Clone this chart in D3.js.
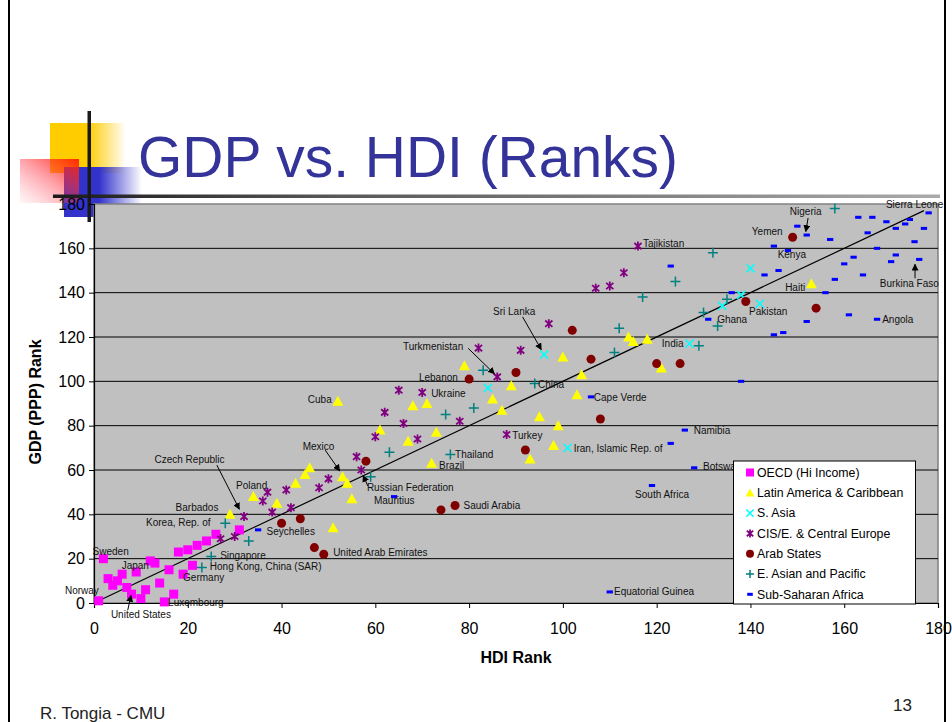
<!DOCTYPE html>
<html><head><meta charset="utf-8">
<script src="https://cdn.jsdelivr.net/npm/d3@7"></script>
<style>body{margin:0;background:#fff;}svg{display:block;font-family:"Liberation Sans",Arial,sans-serif;}</style>
</head><body>
<script>
// ---- data: [HDI rank, GDP (PPP) rank] ----
const oecd = [[1,1],[2,20],[3,11],[4,8],[5,10],[6,13],[7,7],[8,4],[9,14],[10,2],[11,6],[12,19],[13,18],[14,9],[15,0.5],[16,15],[17,4],[18,23],[19,13],[20,24],[21,17],[22,26],[24,28],[26,31],[31,33]];
const latin = [[29,40],[34,48],[39,45],[43,54],[45,58],[46,61],[51,34],[52,91],[53,57],[54,54],[55,47],[61,78],[67,73],[68,89],[71,90],[72,63],[73,77],[79,107],[85,92],[87,87],[89,98],[93,65],[95,84],[98,71],[99,80],[100,111],[103,94],[104,103],[114,120],[115,118],[118,119],[121,106],[153,144]];
const southAsia = [[84,97],[96,112],[101,70],[127,117],[134,134],[138,139],[140,151],[142,135]];
const cis = [[27,29],[30,30],[32,39],[36,46],[37,50],[38,41],[41,51],[42,43],[48,52],[50,56],[56,66],[57,60],[60,75],[62,86],[65,96],[66,81],[69,74],[70,95],[78,82],[82,115],[86,102],[88,76],[91,114],[97,126],[107,142],[110,143],[113,149],[116,161]];
const arab = [[40,36],[44,38],[47,25],[49,22],[58,64],[74,42],[77,44],[80,101],[90,104],[92,69],[102,123],[106,110],[108,83],[120,108],[125,108],[139,136],[149,165],[154,133]];
const eastAsia = [[23,16],[25,21],[28,36],[33,28],[59,57],[63,68],[75,85],[76,67],[81,88],[83,105],[94,99],[111,113],[112,124],[117,138],[124,145],[129,116],[130,131],[132,158],[133,125],[135,137],[158,178]];
const ssa = [[35,33],[64,48],[106,93],[110,5],[119,53],[123,72],[126,78],[128,61],[123,152],[131,128],[136,140],[138,100],[143,148],[145,121],[145,161],[146,150],[147,122],[148,159],[150,170],[152,166],[152,127],[156,140],[157,164],[158,146],[160,153],[161,130],[162,156],[163,174],[164,148],[165,167],[166,174],[167,128],[167,160],[169,172],[170,154],[171,169],[171,157],[173,171],[174,173],[175,163],[176,155],[177,169],[178,176]];
const seriesNames = ["OECD (Hi Income)","Latin America & Caribbean","S. Asia","CIS/E. & Central Europe","Arab States","E. Asian and Pacific","Sub-Saharan Africa"];
const trendX = [1,177];
const trendY = [1,177];
const xTicks = [0,20,40,60,80,100,120,140,160,180];
const yTicks = [0,20,40,60,80,100,120,140,160,180];
// country labels (anchor in data units: HDI, GDP)
const labelText = ["Sierra Leone","Nigeria","Yemen","Kenya","Tajikistan","Haiti","Burkina Faso","Pakistan","Ghana","Angola","Sri Lanka","India","Turkmenistan","Lebanon","China","Ukraine","Cuba","Cape Verde","Namibia","Turkey","Iran, Islamic Rep. of","Mexico","Thailand","Brazil","Czech Republic","Botswana","Poland","Russian Federation","South Africa","Mauritius","Saudi Arabia","Barbados","Korea, Rep. of","Seychelles","Sweden","Singapore","United Arab Emirates","Japan","Hong Kong, China (SAR)","Germany","Norway","Equatorial Guinea","Luxembourg","United States"];
const labelX = [168.9,148.4,140.3,145.8,117.1,147.4,167.6,139.7,132.9,168.1,85.1,121.1,65.9,69.3,94.7,71.9,45.6,106.6,127.9,89.2,102.3,44.5,77,73.6,12.9,129.9,30.3,58.2,115.4,59.7,78.8,17.4,11.1,36.8,-0.3,26.9,51,5.9,24.7,19,-6.2,110.9,15.8,3.6];
const labelY = [179.6,176.6,167.4,157.3,162.2,142.4,144.3,131.6,128.1,128.1,131.5,116.9,115.5,101.6,98.7,94.6,92,92.8,77.7,75.5,69.9,70.7,66.9,62.2,64.8,61.5,52.8,52.2,49.1,46.2,43.8,42.9,36.4,32.1,23.4,21.5,22.6,16.8,16.4,11.5,5.6,5.4,0.3,-5.4];
// arrows [x1,y1,x2,y2] in data units
const arrows = [[152.3,173.7,151.8,167.6],[175.1,146.5,175.1,152.8],[91.4,129.1,95.4,114.3],[79.8,114.9,85.4,103.4],[49.3,69,52.4,59.6],[26.2,62.2,31,42.3],[58.4,52.8,57.4,57.5],[7.2,-3.2,7.9,3.4]];

// ---- drawing ----
const W = 952, H = 722;
const svg = d3.select("body").append("svg").attr("width", W).attr("height", H);
const defs = svg.append("defs");
svg.append("rect").attr("width", W).attr("height", H).attr("fill", "#fff");

function grad(id, x1, y1, x2, y2, stops) {
  const g = defs.append("linearGradient").attr("id", id).attr("x1", x1).attr("y1", y1).attr("x2", x2).attr("y2", y2);
  stops.forEach(s => g.append("stop").attr("offset", s[0]).attr("stop-color", s[1]).attr("stop-opacity", s[2]));
}
grad("gy", "0", "0", "1", "0", [[0, "#ffcc00", 1], [0.5, "#ffcc00", 1], [1, "#ffcc00", 0]]);
grad("gb", "0", "0", "1", "0", [[0, "#3333cc", 1], [0.45, "#3333cc", 1], [1, "#3333cc", 0]]);
grad("gr", "1", "0", "0", "1", [[0, "#ff2200", 0.95], [0.5, "#ff3344", 0.45], [1, "#ff6677", 0.05]]);
grad("gl", "0", "0", "1", "0", [[0, "#1a1a1a", 1], [0.3, "#555", 1], [1, "#aaa", 1]]);

// slide frame
svg.append("line").attr("x1", 9).attr("x2", 9).attr("y1", 0).attr("y2", H).attr("stroke", "#000").attr("stroke-width", 2);
svg.append("line").attr("x1", 945).attr("x2", 945).attr("y1", 0).attr("y2", H).attr("stroke", "#000").attr("stroke-width", 2);

// decoration
svg.append("rect").attr("x", 50).attr("y", 123).attr("width", 76).attr("height", 50).attr("fill", "url(#gy)");
svg.append("rect").attr("x", 64).attr("y", 167).attr("width", 78).attr("height", 50).attr("fill", "url(#gb)");
svg.append("rect").attr("x", 20).attr("y", 159).attr("width", 59).attr("height", 44).attr("fill", "url(#gr)");
svg.append("rect").attr("x", 53).attr("y", 194.5).attr("width", 887).attr("height", 3.5).attr("fill", "url(#gl)");
svg.append("rect").attr("x", 87.5).attr("y", 111).attr("width", 3.5).attr("height", 111).attr("fill", "#1a1a1a");

// title
svg.append("text").attr("x", 138).attr("y", 177).attr("font-size", 58).attr("fill", "#333399")
  .attr("textLength", 540).attr("lengthAdjust", "spacingAndGlyphs").text("GDP vs. HDI (Ranks)");

const x = d3.scaleLinear().domain([0, 180]).range([94, 938]);
const y = d3.scaleLinear().domain([0, 180]).range([603, 204]);

// plot area
svg.append("rect").attr("x", x(0)).attr("y", y(180)).attr("width", x(180) - x(0)).attr("height", y(0) - y(180))
  .attr("fill", "#c0c0c0").attr("stroke", "#808080").attr("stroke-width", 1.5);
svg.append("g").selectAll("line").data(yTicks.filter(t => t > 0 && t < 180)).join("line")
  .attr("x1", x(0)).attr("x2", x(180)).attr("y1", d => y(d)).attr("y2", d => y(d)).attr("stroke", "#000").attr("stroke-width", 1);

// axes
const xAxis = svg.append("g").attr("transform", `translate(0,${y(0)})`)
  .call(d3.axisBottom(x).tickValues(xTicks).tickSize(5).tickPadding(15));
const yAxis = svg.append("g").attr("transform", `translate(${x(0)},0)`)
  .call(d3.axisLeft(y).tickValues(yTicks).tickSize(5).tickPadding(4));
[xAxis, yAxis].forEach(a => {
  a.select(".domain").attr("stroke", "#000").attr("stroke-width", 1.2);
  a.selectAll(".tick line").attr("stroke", "#000");
  a.selectAll(".tick text").attr("font-size", 16).attr("fill", "#000").attr("font-family", "Liberation Sans, Arial, sans-serif");
});

svg.append("text").attr("x", 516).attr("y", 663).attr("text-anchor", "middle").attr("font-weight", "bold").attr("font-size", 16).text("HDI Rank");
svg.append("text").attr("transform", "translate(41,402) rotate(-90)").attr("text-anchor", "middle").attr("font-weight", "bold").attr("font-size", 16).text("GDP (PPP) Rank");

// trend line
svg.append("line").attr("x1", x(trendX[0])).attr("y1", y(trendY[0])).attr("x2", x(trendX[1])).attr("y2", y(trendY[1]))
  .attr("stroke", "#000").attr("stroke-width", 1.2);

// marker drawers
const drawers = [
  (g, s) => g.append("rect").attr("x", -s / 2).attr("y", -s / 2).attr("width", s).attr("height", s).attr("fill", "#ff00ff"),
  (g, s) => g.append("path").attr("d", `M0,${-s * 0.55}L${s * 0.55},${s * 0.45}L${-s * 0.55},${s * 0.45}Z`).attr("fill", "#ffff00"),
  (g, s) => g.append("path").attr("d", `M${-s * 0.45},${-s * 0.45}L${s * 0.45},${s * 0.45}M${-s * 0.45},${s * 0.45}L${s * 0.45},${-s * 0.45}`).attr("stroke", "#00ffff").attr("stroke-width", 1.6),
  (g, s) => g.append("path").attr("d", `M${-s * 0.4},${-s * 0.35}L${s * 0.4},${s * 0.35}M${-s * 0.4},${s * 0.35}L${s * 0.4},${-s * 0.35}M0,${-s * 0.5}L0,${s * 0.5}`).attr("stroke", "#800080").attr("stroke-width", 1.8),
  (g, s) => g.append("circle").attr("r", s * 0.5).attr("fill", "#800000"),
  (g, s) => g.append("path").attr("d", `M${-s * 0.5},0L${s * 0.5},0M0,${-s * 0.5}L0,${s * 0.5}`).attr("stroke", "#008080").attr("stroke-width", 1.5),
  (g, s) => g.append("rect").attr("x", -s * 0.35).attr("y", -1.5).attr("width", s * 0.7).attr("height", 3).attr("fill", "#0000ff")
];
const allSeries = [oecd, latin, southAsia, cis, arab, eastAsia, ssa];
const sizes = [9, 10, 9, 9, 9, 10, 9];
allSeries.forEach((data, i) => {
  const g = svg.append("g");
  data.forEach(d => {
    const m = g.append("g").attr("transform", `translate(${x(d[0])},${y(d[1])})`);
    drawers[i](m, sizes[i]);
  });
});

// arrows
defs.append("marker").attr("id", "ah").attr("viewBox", "0 0 10 10").attr("refX", 9).attr("refY", 5)
  .attr("markerWidth", 7).attr("markerHeight", 7).attr("markerUnits", "userSpaceOnUse").attr("orient", "auto")
  .append("path").attr("d", "M0,0L10,5L0,10Z").attr("fill", "#000");
svg.append("g").selectAll("line").data(arrows).join("line")
  .attr("x1", d => x(d[0])).attr("y1", d => y(d[1])).attr("x2", d => x(d[2])).attr("y2", d => y(d[3]))
  .attr("stroke", "#000").attr("stroke-width", 1).attr("marker-end", "url(#ah)");

// country labels
svg.append("g").selectAll("text").data(labelText).join("text")
  .attr("x", (d, i) => x(labelX[i])).attr("y", (d, i) => y(labelY[i])).attr("dy", "0.35em")
  .attr("font-size", 10).attr("fill", "#111").text(d => d);

// legend
const lg = svg.append("g");
lg.append("rect").attr("x", 733.5).attr("y", 461).attr("width", 182).attr("height", 143).attr("fill", "#fff").attr("stroke", "#000").attr("stroke-width", 1);
seriesNames.forEach((n, i) => {
  const yy = 472.5 + i * 20.3;
  const m = lg.append("g").attr("transform", `translate(750,${yy})`);
  drawers[i](m, 8);
  lg.append("text").attr("x", 757).attr("y", yy).attr("dy", "0.35em").attr("font-size", 12.3).attr("fill", "#000").text(n);
});

// footer
svg.append("text").attr("x", 40).attr("y", 719).attr("font-size", 17).attr("fill", "#222").text("R. Tongia - CMU");
svg.append("text").attr("x", 893).attr("y", 711).attr("font-size", 17).attr("fill", "#222").text("13");
</script>
</body></html>
